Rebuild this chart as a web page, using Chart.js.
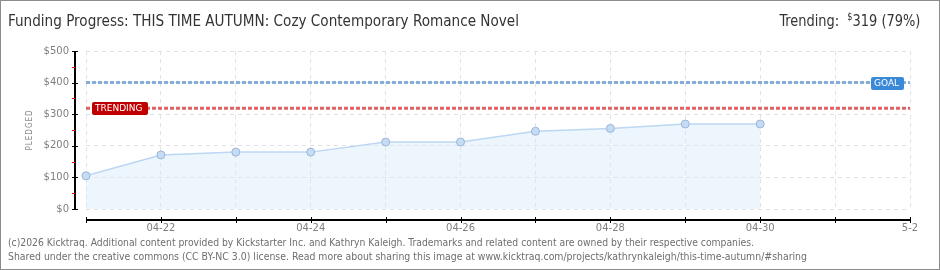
<!DOCTYPE html>
<html>
<head>
<meta charset="utf-8">
<script src="https://cdn.jsdelivr.net/npm/chart.js@4.4.1/dist/chart.umd.min.js"></script>
<style>
  html, body { margin: 0; padding: 0; background: #fff; }
  #wrap { position: relative; width: 940px; height: 270px; box-sizing: border-box; border: 1px solid #8c8c8c; overflow: hidden; }
  #chart { position: absolute; left: -1px; top: -1px; }
  .txt { position: absolute; white-space: nowrap; font-family: "DejaVu Sans"; font-stretch: condensed; }
  #title { left: 7px; top: 10px; font-size: 16px; color: #333; transform-origin: left center; }
  #trend { right: 19px; top: 10px; font-size: 16px; color: #333; transform-origin: right center; }
  #trend sup { font-size: 10px; vertical-align: 6px; }
  .foot { left: 7px; font-size: 10px; color: #6e6e6e; transform-origin: left center; }
  #pledged { left: 4px; top: 124px; width: 50px; height: 10px; line-height: 10px; font-size: 8px; color: #8a8a8a; letter-spacing: 1px; text-align: center; transform: rotate(-90deg); }
</style>
</head>
<body>
<div id="wrap">
  <canvas id="chart" width="940" height="270"></canvas>
  <div class="txt" id="title" data-w="511">Funding Progress: THIS TIME AUTUMN: Cozy Contemporary Romance Novel</div>
  <div class="txt" id="trend" data-w="141">Trending:&nbsp; <sup>$</sup>319 (79%)</div>
  <div class="txt foot" style="top:236px" data-w="746">(c)2026 Kicktraq. Additional content provided by Kickstarter Inc. and Kathryn Kaleigh. Trademarks and related content are owned by their respective companies.</div>
  <div class="txt foot" style="top:250px" data-w="799">Shared under the creative commons (CC BY-NC 3.0) license. Read more about sharing this image at www.kicktraq.com/projects/kathrynkaleigh/this-time-autumn/#sharing</div>
  <div class="txt" id="pledged">PLEDGED</div>
</div>
<script>
"use strict"

const days = ['04-21', '04-22', '04-23', '04-24', '04-25', '04-26', '04-27', '04-28', '04-29', '04-30', '05-01', '05-02'];
const dayLabels = ['', '04-22', '', '04-24', '', '04-26', '', '04-28', '', '04-30', '', '5-2'];
const pledged = [105, 171, 180, 180, 212, 212, 246, 255, 269, 269];
const goal = 400;
const trending = 319;
const yTicks = [0, 100, 200, 300, 400, 500];

// stretch the html texts to the widths in the picture
document.querySelectorAll('[data-w]').forEach(el => {
    const w = el.getBoundingClientRect().width;
    el.style.transform = 'scaleX(' + (Number(el.dataset.w) / w) + ')';
});

const axesPlugin = {
    id: 'axes',
    afterDraw(chart) {
        const ctx = chart.ctx;
        const x = chart.scales.x;
        const y = chart.scales.y;
        const area = chart.chartArea;
        ctx.save();
        ctx.setLineDash([]);

        // y axis, set off from the plot
        const ax = Math.round(area.left) - 12;
        const top = Math.round(y.getPixelForValue(500));
        const bot = Math.round(y.getPixelForValue(0)) + 1;
        ctx.fillStyle = '#000';
        ctx.fillRect(ax, top, 2, bot - top);
        for (let v = 0; v <= 500; v += 50) {
            const py = Math.round(y.getPixelForValue(v));
            if (v % 100 === 0) {
                ctx.fillStyle = '#000';
                ctx.fillRect(ax - 2, py, 6, 1);
            } else {
                ctx.fillStyle = '#ff0000';
                ctx.fillRect(ax - 2, py, 3, 1);
            }
        }

        // x axis
        const ay = Math.round(area.bottom) + 10;
        const x0 = Math.round(x.getPixelForValue(0));
        const x1 = Math.round(x.getPixelForValue(days.length - 1)) + 1;
        ctx.fillStyle = '#000';
        ctx.fillRect(x0, ay, x1 - x0, 2);
        for (let i = 0; i < days.length; i++) {
            const px = Math.round(x.getPixelForValue(i));
            ctx.fillRect(px, ay - 2, 1, 6);
        }

        // goal / trending tags
        function tag(text, color, left, width, value) {
            const py = Math.round(y.getPixelForValue(value));
            ctx.fillStyle = color;
            ctx.beginPath();
            ctx.roundRect(left, py - 6, width, 13, 2);
            ctx.fill();
            ctx.fillStyle = '#fff';
            ctx.font = '9px "DejaVu Sans"';
            ctx.textAlign = 'left';
            ctx.textBaseline = 'middle';
            ctx.fillText(text, left + 3, py + 1);
        }
        tag('TRENDING', '#c00000', 92, 56, trending);
        tag('GOAL', '#3a88d8', 871, 33, goal);
        ctx.restore();
    }
};

new Chart(document.getElementById('chart'), {
    type: 'line',
    data: {
        labels: days,
        datasets: [
            {
                data: pledged,
                borderColor: '#bcd7f3',
                borderWidth: 1.5,
                backgroundColor: 'rgba(214,232,250,0.45)',
                fill: 'origin',
                tension: 0,
                pointRadius: 4,
                pointBackgroundColor: '#c5dcf6',
                pointBorderColor: '#9bb5d4',
                pointBorderWidth: 1,
                order: 3
            },
            {
                data: days.map(() => goal),
                borderColor: '#86acd9',
                borderWidth: 3,
                borderDash: [4, 2],
                pointRadius: 0,
                fill: false,
                order: 1
            },
            {
                data: days.map(() => trending),
                borderColor: '#dd6464',
                borderWidth: 3,
                borderDash: [4, 2],
                pointRadius: 0,
                fill: false,
                order: 2
            }
        ]
    },
    options: {
        responsive: false,
        animation: false,
        events: [],
        layout: { padding: { left: 0, right: 30, top: 51, bottom: 38 } },
        plugins: { legend: { display: false }, tooltip: { enabled: false } },
        scales: {
            x: {
                offset: false,
                afterFit: s => { s.height = 23; },
                border: { display: false, dash: [4, 4] },
                grid: { color: '#e2e2e2', drawTicks: false },
                ticks: {
                    autoSkip: false,
                    maxRotation: 0,
                    padding: 13,
                    color: '#808080',
                    font: { family: 'DejaVu Sans', size: 10 },
                    callback: (v, i) => dayLabels[i]
                }
            },
            y: {
                min: 0,
                max: 500,
                afterFit: s => { s.width = 86; },
                afterBuildTicks: s => { s.ticks = yTicks.map(v => ({ value: v })); },
                border: { display: false, dash: [4, 4] },
                grid: { color: '#e2e2e2', drawTicks: false },
                ticks: {
                    padding: 17,
                    color: '#808080',
                    font: { family: 'DejaVu Sans', size: 10 },
                    callback: v => '$' + v
                }
            }
        }
    },
    plugins: [axesPlugin]
});
</script>
</body>
</html>
